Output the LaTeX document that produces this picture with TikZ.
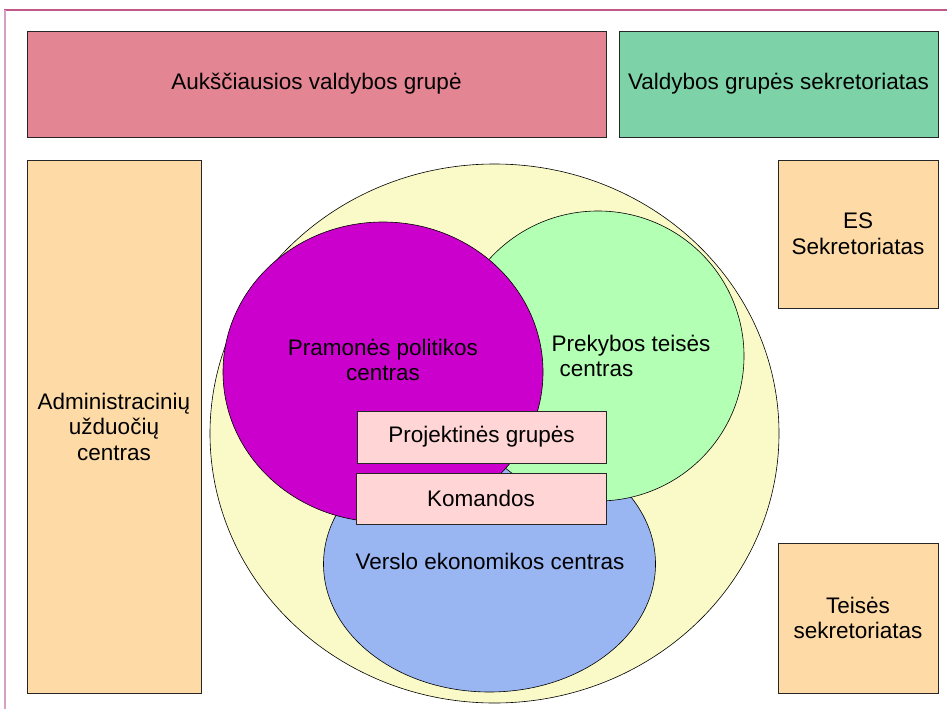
\documentclass[tikz,border=0pt]{standalone}
\usepackage{fontspec}
\setmainfont{Liberation Sans}
\usetikzlibrary{shapes.geometric}

\definecolor{topred}{RGB}{227,133,146}
\definecolor{topgreen}{RGB}{125,211,167}
\definecolor{sideorange}{RGB}{254,218,166}
\definecolor{bigyellow}{RGB}{250,250,200}
\definecolor{pramviolet}{RGB}{204,0,204}
\definecolor{prekgreen}{RGB}{179,255,179}
\definecolor{verblue}{RGB}{153,181,242}
\definecolor{grppink}{RGB}{255,213,213}
\definecolor{frametop}{RGB}{192,88,138}
\definecolor{frameleft}{RGB}{216,160,192}

\tikzset{
	unitbox/.style={draw=black!85, line width=0.6pt, align=center, inner sep=0pt,
		font=\fontsize{22.5}{25.5}\selectfont},
	setcircle/.style={ellipse, draw=black, line width=0.6pt, inner sep=0pt},
	settext/.style={align=center, font=\fontsize{22.5}{25.5}\selectfont}
}

\begin{document}
\begin{tikzpicture}[x=1pt,y=-1pt]

		\useasboundingbox (0,0) rectangle (947,709);

		% frame lines
		\draw[frametop, line width=1.2pt] (4,10) -- (947,10);
		\draw[frameleft, line width=1.2pt] (5,10) -- (5,709);

		% top row
		\node[unitbox, fill=topred, minimum width=579pt, minimum height=106pt] (virsus) at (316.5,84) {Aukščiausios valdybos grupė};
		\node[unitbox, fill=topgreen, minimum width=319pt, minimum height=106pt] (valdsekr) at (778.5,84) {Valdybos grupės sekretoriatas};

		% side boxes
		\node[unitbox, fill=sideorange, minimum width=174pt, minimum height=533pt] (admin) at (114,426.5) {Administracinių\\užduočių\\centras};
		\node[unitbox, fill=sideorange, minimum width=160pt, minimum height=148pt] (essekr) at (858,234) {ES\\Sekretoriatas};
		\node[unitbox, fill=sideorange, minimum width=160pt, minimum height=150pt] (teisekr) at (858,618) {Teisės\\sekretoriatas};

		% centres
		\node[setcircle, fill=bigyellow, minimum width=569pt, minimum height=539pt] (visa) at (494.5,433.5) {};
		\node[setcircle, fill=verblue, minimum width=332pt, minimum height=256pt] (verslo) at (489.5,564) {};
		\node[setcircle, fill=prekgreen, minimum width=292pt, minimum height=290pt] (prekyba) at (598,356) {};
		\node[setcircle, fill=pramviolet, minimum width=320pt, minimum height=300pt] (pramone) at (383,372) {};

		\node[settext] (pramtxt) at (383,360) {Pramonės politikos\\centras};
		\node[settext, align=left] (prektxt) at (631,356) {Prekybos teisės\\\hspace{8pt}centras};
		\node[settext] (verstxt) at (490,561) {Verslo ekonomikos centras};

		% groups
		\node[unitbox, fill=grppink, minimum width=249pt, minimum height=52pt] (projekt) at (481.5,437) {Projektinės grupės};
		\node[unitbox, fill=grppink, minimum width=250pt, minimum height=51pt] (komand) at (481,498.5) {Komandos};

	\end{tikzpicture}
\end{document}
